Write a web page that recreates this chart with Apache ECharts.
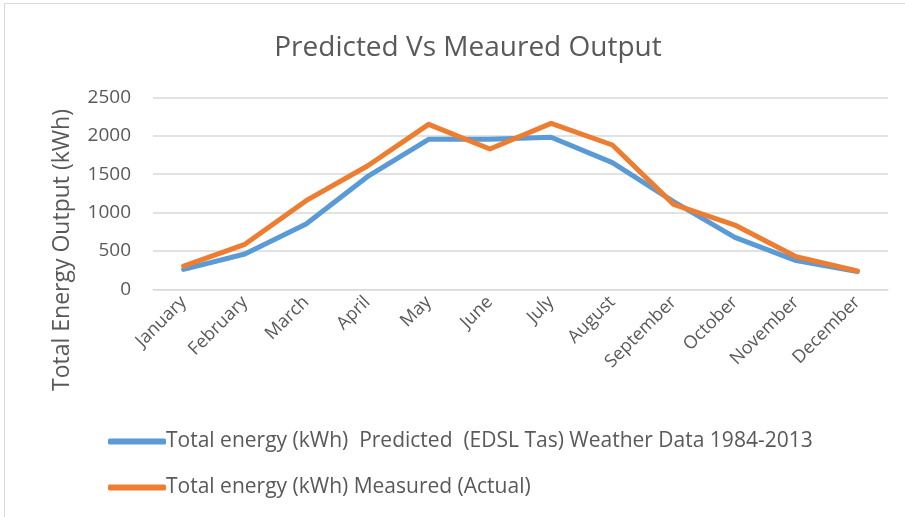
<!DOCTYPE html>
<html><head><meta charset="utf-8">
<script src="https://cdn.jsdelivr.net/npm/echarts@6/dist/echarts.min.js"></script>
<style>html,body{margin:0;padding:0;background:#fff}#c{width:905px;height:517px}</style>
</head><body><div id="c"></div>
<script>
var categories = ['January','February','March','April','May','June','July','August','September','October','November','December'];
var predicted = [260, 460, 850, 1466, 1953, 1955, 1979, 1649, 1141, 677, 373, 230];
var measured = [303, 586, 1154, 1605, 2148, 1827, 2161, 1879, 1106, 837, 425, 238];
var yTicks = [0, 500, 1000, 1500, 2000, 2500];
var predictedName = 'Total energy (kWh)  Predicted  (EDSL Tas) Weather Data 1984-2013';
var measuredName = 'Total energy (kWh) Measured (Actual)';
var yAxisName = 'Total Energy Output (kWh)';

var font = '"Open Sans", sans-serif';
var chart = echarts.init(document.getElementById('c'));
chart.setOption({
  animation: false,
  textStyle: {fontFamily: font},
  title: {
    text: 'Predicted Vs Meaured Output',
    left: 463, textAlign: 'center', top: 29,
    textStyle: {fontFamily: font, fontSize: 28, fontWeight: 'normal', color: '#595959'}
  },
  graphic: [
    {type: 'rect', shape: {x: 4.5, y: 3.5, width: 950, height: 600}, style: {fill: 'none', stroke: '#d9d9d9', lineWidth: 1}},
    {type: 'text', x: 62, y: 250, rotation: Math.PI / 2,
     style: {text: yAxisName, fontFamily: font, fontSize: 23, fill: '#595959', align: 'center', verticalAlign: 'middle'}}
  ],
  legend: {
    orient: 'vertical', left: 103, top: 426, itemGap: 25,
    itemWidth: 58, itemHeight: 6, icon: 'roundRect',
    textStyle: {fontFamily: font, fontSize: 21, color: '#595959', padding: [0,0,0,-5]},
    data: [predictedName, measuredName]
  },
  grid: {left: 153, right: 17, top: 97.3, bottom: 227.7, containLabel: false},
  xAxis: {
    type: 'category', data: categories, boundaryGap: true,
    axisLine: {show: true, lineStyle: {color: '#d9d9d9', width: 1}},
    axisTick: {show: false},
    axisLabel: {rotate: 45, fontSize: 18, color: '#595959', fontFamily: font, margin: 10, interval: 0}
  },
  yAxis: {
    type: 'value', min: yTicks[0], max: yTicks[yTicks.length-1], interval: 500,
    axisLine: {show: false}, axisTick: {show: false},
    axisLabel: {fontSize: 19, color: '#595959', fontFamily: font, margin: 22, formatter: function (v) { return String(v); }},
    splitLine: {lineStyle: {color: '#d9d9d9', width: 1.5}}
  },
  series: [
    {name: predictedName, type: 'line', data: predicted, symbol: 'none', lineStyle: {color: '#5B9BD5', width: 5, cap: 'round', join: 'round'}, itemStyle: {color: '#5B9BD5'}},
    {name: measuredName, type: 'line', data: measured, symbol: 'none', lineStyle: {color: '#ED7D31', width: 5, cap: 'round', join: 'round'}, itemStyle: {color: '#ED7D31'}}
  ]
});
</script></body></html>
